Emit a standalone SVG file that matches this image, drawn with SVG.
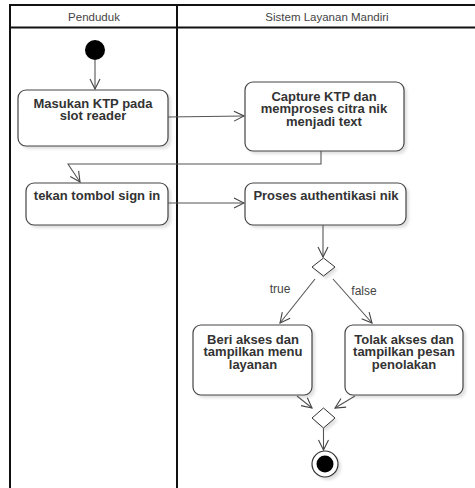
<svg xmlns="http://www.w3.org/2000/svg" width="475" height="488" viewBox="0 0 475 488">
<defs>
<marker id="arr" viewBox="0 0 12 12" refX="11" refY="6" markerWidth="12" markerHeight="12" markerUnits="userSpaceOnUse" orient="auto">
<path d="M1,1 L11,6 L1,11" fill="none" stroke="#444" stroke-width="1.1"/>
</marker>
<filter id="sh" x="-10%" y="-10%" width="130%" height="130%">
<feGaussianBlur stdDeviation="1.5"/>
</filter>
</defs>
<style>
.lane{fill:none;stroke:#111;stroke-width:2}
.hdr{font-family:"Liberation Sans",Arial,sans-serif;font-size:11.5px;fill:#444;text-anchor:middle}
.box{fill:#fff;stroke:#444;stroke-width:1.2}
.shd{fill:#000;opacity:0.12;filter:url(#sh)}
.t{font-family:"Liberation Sans",Arial,sans-serif;font-size:13px;font-weight:bold;fill:#333;text-anchor:middle}
.lbl{font-family:"Liberation Sans",Arial,sans-serif;font-size:12px;fill:#444;text-anchor:middle}
.c{fill:none;stroke:#555;stroke-width:1.1;marker-end:url(#arr)}
.dia{fill:#fff;stroke:#333;stroke-width:1}
</style>
<rect width="475" height="488" fill="#fff"/>
<g id="lanes">
<path class="lane" d="M10,490 V5 H476 M10,27.5 H476 M177,5 V490"/>
<text class="hdr" x="94" y="21">Penduduk</text>
<text class="hdr" x="327" y="21">Sistem Layanan Mandiri</text>
</g>
<g id="start"><circle cx="95" cy="50" r="10" fill="#000"/></g>
<g id="n1">
<rect class="shd" x="21" y="93" width="150" height="56" rx="8"/>
<rect class="box" x="18" y="90" width="150" height="56" rx="8"/>
<text class="t" x="93" y="107.5">Masukan KTP pada</text>
<text class="t" x="93" y="120">slot reader</text>
</g>
<g id="n2">
<rect class="shd" x="248" y="85" width="159" height="69" rx="8"/>
<rect class="box" x="245" y="82" width="159" height="69" rx="8"/>
<text class="t" x="324" y="100.5">Capture KTP dan</text>
<text class="t" x="324" y="113">memproses citra nik</text>
<text class="t" x="324" y="125.5">menjadi text</text>
</g>
<g id="n3">
<rect class="shd" x="29" y="186" width="142" height="42" rx="8"/>
<rect class="box" x="26" y="183" width="142" height="42" rx="8"/>
<text class="t" x="97" y="200">tekan tombol sign in</text>
</g>
<g id="n4">
<rect class="shd" x="248" y="186" width="161" height="42" rx="8"/>
<rect class="box" x="245" y="183" width="161" height="42" rx="8"/>
<text class="t" x="326" y="200">Proses authentikasi nik</text>
</g>
<g id="d1">
<polygon class="shd" points="326,261 337.5,270 326,279 314.5,270"/>
<polygon class="dia" points="323.5,258 335,267 323.5,276 312,267"/>
</g>
<g id="n5">
<rect class="shd" x="196" y="328" width="119" height="70" rx="8"/>
<rect class="box" x="193" y="325" width="119" height="70" rx="8"/>
<text class="t" x="253" y="343.5">Beri akses dan</text>
<text class="t" x="253" y="356">tampilkan menu</text>
<text class="t" x="253" y="368.5">layanan</text>
</g>
<g id="n6">
<rect class="shd" x="348" y="328" width="118" height="70" rx="8"/>
<rect class="box" x="345" y="325" width="118" height="70" rx="8"/>
<text class="t" x="404" y="343.5">Tolak akses dan</text>
<text class="t" x="404" y="356">tampilkan pesan</text>
<text class="t" x="404" y="368.5">penolakan</text>
</g>
<g id="d2">
<polygon class="shd" points="326,411 337.5,421 326,431 314.5,421"/>
<polygon class="dia" points="323.5,408 335,418 323.5,428 312,418"/>
</g>
<g id="end">
<circle cx="328" cy="467" r="13" fill="#000" opacity="0.12" filter="url(#sh)"/>
<circle cx="325" cy="464" r="13" fill="#fff" stroke="#333" stroke-width="1.2"/>
<circle cx="325" cy="464" r="8.5" fill="#000"/>
</g>
<g id="connectors">
<path class="c" d="M95,60 V89"/>
<path class="c" d="M168,117 L244,116"/>
<path class="c" d="M321,151 V164 H68 L80,182"/>
<path class="c" d="M168,203 H244"/>
<path class="c" d="M323,225 V257"/>
<path class="c" d="M315,279 L280,323"/>
<path class="c" d="M333,279 L372,323"/>
<path class="c" d="M297,396 L312,408"/>
<path class="c" d="M355,396 L335,408"/>
<path class="c" d="M323.5,428 V450"/>
<text class="lbl" x="280" y="293">true</text>
<text class="lbl" x="364" y="295">false</text>
</g>
</svg>
